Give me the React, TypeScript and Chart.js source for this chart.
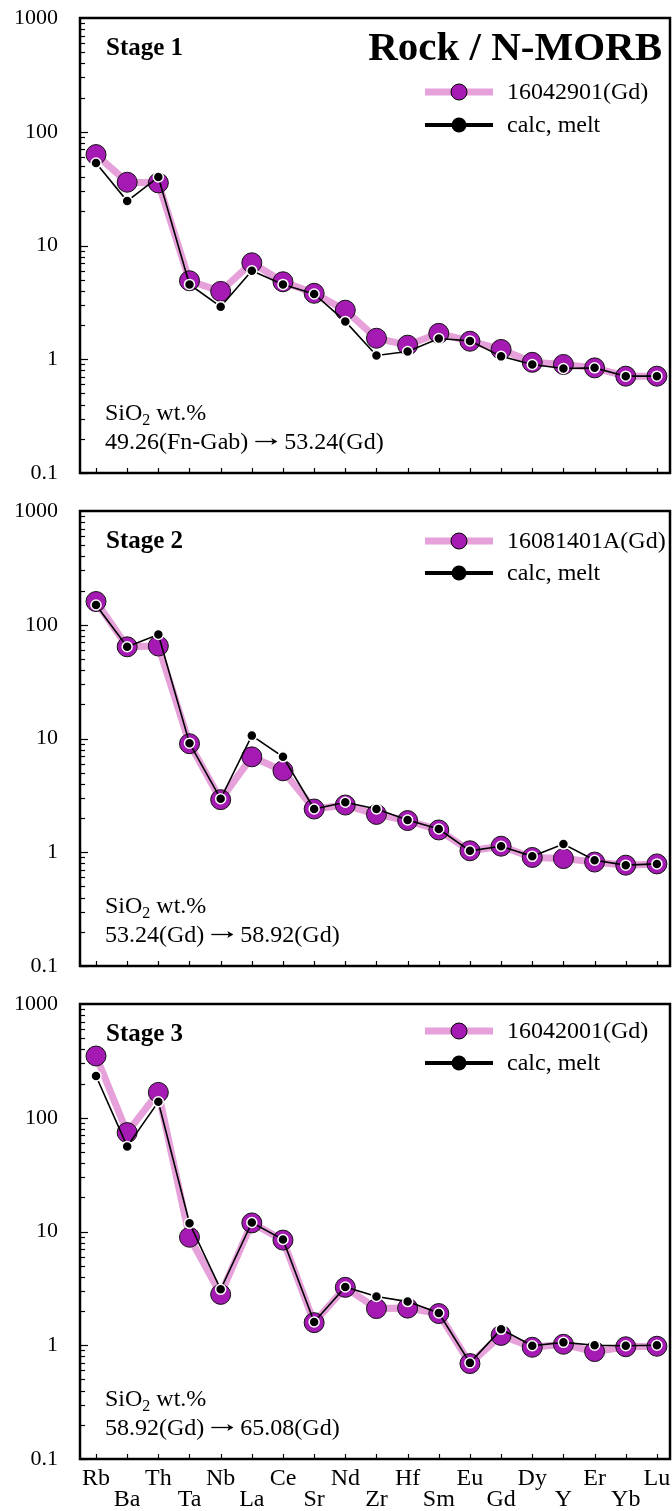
import React, { useEffect, useRef } from "react";
import { Chart, registerables } from "chart.js";

Chart.register(...registerables);

// ---------- data ----------
const ELEMENTS = ["Rb", "Ba", "Th", "Ta", "Nb", "La", "Ce", "Sr", "Nd", "Zr", "Hf", "Sm", "Eu", "Gd", "Dy", "Y", "Er", "Yb", "Lu"];
const Y_TICKS = [0.1, 1, 10, 100, 1000];
const Y_TICK_LABELS = ["0.1", "1", "10", "100", "1000"];

const STAGE_NAMES = ["Stage 1", "Stage 2", "Stage 3"];
const SAMPLE_NAMES = ["16042901(Gd)", "16081401A(Gd)", "16042001(Gd)"];
const CALC_NAME = "calc, melt";
const TITLE = "Rock / N-MORB";
const SIO2_FROM = ["49.26(Fn-Gab)", "53.24(Gd)", "58.92(Gd)"];
const SIO2_TO = ["53.24(Gd)", "58.92(Gd)", "65.08(Gd)"];

const STAGE1_SAMPLE = [63, 36, 35.5, 4.9, 3.95, 7.05, 4.8, 3.8, 2.7, 1.53, 1.33, 1.69, 1.44, 1.22, 0.94, 0.9, 0.84, 0.71, 0.71];
const STAGE1_CALC = [53, 24.6, 40, 4.55, 2.9, 6.0, 4.55, 3.75, 2.15, 1.08, 1.17, 1.52, 1.45, 1.06, 0.9, 0.83, 0.84, 0.71, 0.71];

const STAGE2_SAMPLE = [160, 64, 65, 9.0, 2.9, 6.9, 5.2, 2.4, 2.6, 2.15, 1.9, 1.57, 1.03, 1.13, 0.9, 0.88, 0.82, 0.77, 0.79];
const STAGE2_CALC = [149, 64, 82, 9.1, 2.95, 10.6, 6.9, 2.4, 2.75, 2.4, 1.92, 1.6, 1.03, 1.13, 0.92, 1.18, 0.85, 0.77, 0.79];

const STAGE3_SAMPLE = [349, 74, 167, 8.9, 2.8, 11.9, 8.4, 1.58, 3.23, 2.1, 2.12, 1.9, 0.69, 1.22, 0.96, 1.02, 0.88, 0.97, 0.98];
const STAGE3_CALC = [233, 56, 138, 11.8, 3.1, 12.0, 8.5, 1.6, 3.25, 2.68, 2.42, 1.92, 0.7, 1.38, 0.99, 1.06, 1.0, 0.99, 1.0];

// ---------- styles ----------
const SERIF = "'Liberation Serif', 'Times New Roman', serif";
const PINK = "#E6A0DA";
const PURPLE = "#A41AB2";

type PanelProps = {
  idx: number;
  sample: number[];
  calc: number[];
  top: number;
  height: number;
  showTitle: boolean;
  showXLabels: boolean;
  legendY: [number, number];
};

const PANEL_W = 672;

function Panel(props: PanelProps) {
  const ref = useRef<HTMLCanvasElement | null>(null);

  useEffect(() => {
    const canvas = ref.current;
    if (!canvas) return;
    const { idx, sample, calc, showTitle, showXLabels, legendY, height } = props;

    const decor = {
      id: "decor" + idx,
      afterDraw(chart: any) {
        const ctx = chart.ctx as CanvasRenderingContext2D;
        const { left, right, top, bottom } = chart.chartArea;
        const ys = chart.scales.y;
        const xs = chart.scales.x;
        ctx.save();
        ctx.strokeStyle = "#000";
        ctx.fillStyle = "#000";
        // y ticks (inward)
        ctx.lineWidth = 1.2;
        for (let d = 0; d < Y_TICKS.length - 1; d++) {
          for (let m = 1; m <= 9; m++) {
            const v = Y_TICKS[d] * m;
            const py = Math.round(ys.getPixelForValue(v)) + 0.5;
            const len = m === 1 ? 8 : 5;
            ctx.beginPath();
            ctx.moveTo(left, py);
            ctx.lineTo(left + len, py);
            ctx.stroke();
          }
        }
        // x ticks (inward)
        for (let i = 0; i < ELEMENTS.length; i++) {
          const px = Math.round(xs.getPixelForValue(i)) + 0.5;
          ctx.beginPath();
          ctx.moveTo(px, bottom);
          ctx.lineTo(px, bottom - 5);
          ctx.stroke();
        }
        // frame
        ctx.lineWidth = 2.5;
        ctx.strokeRect(left, top, right - left, bottom - top);

        // stage label
        ctx.textBaseline = "alphabetic";
        ctx.textAlign = "left";
        ctx.font = `bold 25px ${SERIF}`;
        ctx.fillText(STAGE_NAMES[idx], 106, 55);

        if (showTitle) {
          ctx.font = `bold 41px ${SERIF}`;
          ctx.textAlign = "right";
          ctx.fillText(TITLE, 662, 60);
          ctx.textAlign = "left";
        }

        // legend
        const lx0 = 425, lx1 = 493, lmx = 459, ltx = 507;
        ctx.lineWidth = 7;
        ctx.strokeStyle = PINK;
        ctx.beginPath();
        ctx.moveTo(lx0, legendY[0]);
        ctx.lineTo(lx1, legendY[0]);
        ctx.stroke();
        ctx.beginPath();
        ctx.arc(lmx, legendY[0], 8, 0, Math.PI * 2);
        ctx.fillStyle = PURPLE;
        ctx.fill();
        ctx.lineWidth = 1;
        ctx.strokeStyle = "#000";
        ctx.stroke();
        ctx.lineWidth = 4;
        ctx.beginPath();
        ctx.moveTo(lx0, legendY[1]);
        ctx.lineTo(lx1, legendY[1]);
        ctx.stroke();
        ctx.beginPath();
        ctx.arc(lmx, legendY[1], 7.5, 0, Math.PI * 2);
        ctx.fillStyle = "#000";
        ctx.fill();
        ctx.font = `24px ${SERIF}`;
        ctx.textBaseline = "middle";
        ctx.fillText(SAMPLE_NAMES[idx], ltx, legendY[0] + 1);
        ctx.fillText(CALC_NAME, ltx, legendY[1] + 1);

        // SiO2 text
        ctx.textBaseline = "alphabetic";
        ctx.font = `24px ${SERIF}`;
        let tx = 105;
        ctx.fillText("SiO", tx, 420);
        tx += ctx.measureText("SiO").width;
        ctx.font = `16px ${SERIF}`;
        ctx.fillText("2", tx, 425);
        tx += ctx.measureText("2").width;
        ctx.font = `24px ${SERIF}`;
        ctx.fillText(" wt.%", tx, 420);
        // range line with a long thin arrow
        tx = 105;
        ctx.fillText(SIO2_FROM[idx] + " ", tx, 449);
        tx += ctx.measureText(SIO2_FROM[idx] + " ").width;
        const ay = 441.5;
        ctx.lineWidth = 1.3;
        ctx.strokeStyle = "#000";
        ctx.beginPath();
        ctx.moveTo(tx + 1, ay);
        ctx.lineTo(tx + 22, ay);
        ctx.stroke();
        ctx.beginPath();
        ctx.moveTo(tx + 23, ay);
        ctx.lineTo(tx + 17, ay - 3.5);
        ctx.lineTo(tx + 18.5, ay);
        ctx.lineTo(tx + 17, ay + 3.5);
        ctx.closePath();
        ctx.fill();
        tx += 24;
        ctx.fillText(" " + SIO2_TO[idx], tx, 449);

        // x labels
        if (showXLabels) {
          ctx.font = `24px ${SERIF}`;
          ctx.textAlign = "center";
          for (let i = 0; i < ELEMENTS.length; i++) {
            const px = xs.getPixelForValue(i);
            ctx.fillText(ELEMENTS[i], px, i % 2 === 0 ? bottom + 26 : bottom + 47);
          }
        }
        ctx.restore();
      },
    };

    const chart = new Chart(canvas, {
      type: "line",
      data: {
        datasets: [
          {
            label: CALC_NAME,
            data: calc.map((v, i) => ({ x: i, y: v })),
            borderColor: "#000",
            borderWidth: 1.6,
            pointRadius: 5,
            pointBackgroundColor: "#000",
            pointBorderColor: "#fff",
            pointBorderWidth: 1.5,
            tension: 0,
            clip: false,
          },
          {
            label: SAMPLE_NAMES[idx],
            data: sample.map((v, i) => ({ x: i, y: v })),
            borderColor: PINK,
            borderWidth: 7,
            pointRadius: 10,
            pointBackgroundColor: PURPLE,
            pointBorderColor: "#111",
            pointBorderWidth: 1,
            tension: 0,
            clip: false,
          },
        ],
      },
      options: {
        animation: false,
        responsive: false,
        devicePixelRatio: 1,
        events: [],
        layout: { autoPadding: false, padding: { top: 18, bottom: height - 473, left: 0, right: 2 } },
        plugins: { legend: { display: false }, tooltip: { enabled: false } },
        scales: {
          x: {
            type: "linear",
            min: -0.514,
            max: 18.42,
            display: false,
          },
          y: {
            type: "logarithmic",
            min: 0.1,
            max: 1000,
            grid: { display: false, drawTicks: false },
            border: { display: false },
            afterBuildTicks: (scale: any) => {
              scale.ticks = Y_TICKS.map((v) => ({ value: v }));
            },
            afterFit: (scale: any) => {
              scale.width = 80;
              scale.paddingTop = 0;
              scale.paddingBottom = 0;
            },
            ticks: {
              autoSkip: false,
              padding: 22,
              color: "#000",
              font: { family: SERIF, size: 22 },
              callback: (value: any) => {
                const i = Y_TICKS.indexOf(Number(value));
                return i >= 0 ? Y_TICK_LABELS[i] : "";
              },
            },
          },
        },
      },
      plugins: [decor],
    } as any);

    return () => chart.destroy();
  }, []);

  return (
    <canvas
      ref={ref}
      width={PANEL_W}
      height={props.height}
      style={{ position: "absolute", left: 0, top: props.top, width: PANEL_W, height: props.height }}
    />
  );
}

export default function App() {
  return (
    <div style={{ position: "absolute", left: 0, top: 0, width: 672, height: 1511, background: "#fff", overflow: "hidden" }}>
      <Panel idx={0} sample={STAGE1_SAMPLE} calc={STAGE1_CALC} top={0} height={493} showTitle={true} showXLabels={false} legendY={[92, 125]} />
      <Panel idx={1} sample={STAGE2_SAMPLE} calc={STAGE2_CALC} top={493} height={493} showTitle={false} showXLabels={false} legendY={[48, 80]} />
      <Panel idx={2} sample={STAGE3_SAMPLE} calc={STAGE3_CALC} top={986} height={525} showTitle={false} showXLabels={true} legendY={[45, 77]} />
    </div>
  );
}
